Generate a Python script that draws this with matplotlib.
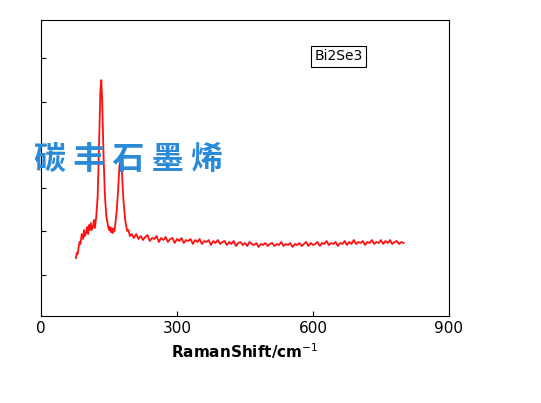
import matplotlib
matplotlib.use("Agg")
import matplotlib.pyplot as plt

# peak region (Raman shift, intensity in arbitrary units)
peak_x = [77, 79, 81, 83, 85, 87, 90, 93, 95, 97, 100, 102, 104, 106, 108, 110, 112, 115, 117, 119,
          122, 125, 128, 131, 133, 135, 138, 141, 144, 148, 150, 152, 154, 156, 158, 160, 162, 164,
          167, 170, 173, 176, 179, 182, 186, 190, 193, 196, 200]
peak_y = [58, 63, 62, 69, 74, 72, 82, 77, 86, 80, 84, 89, 82, 91, 86, 93, 86, 90, 96, 88,
          100, 120, 170, 225, 236, 215, 160, 120, 100, 90, 86, 89, 84, 88, 83, 87, 85, 92,
          105, 125, 150, 158, 140, 115, 95, 85, 86, 80, 82]

# baseline, every 5 cm-1 from 205 to 800
base_x = list(range(205, 801, 5))
base_y = [78, 82, 77, 80, 76, 79, 81, 75, 78, 77, 80, 74, 78, 76, 79, 74, 77, 78, 73, 77,
          75, 78, 73, 76, 75, 77, 72, 76, 74, 77, 72, 75, 74, 76, 71, 75, 73, 76, 72, 74,
          75, 71, 74, 72, 75, 70, 73, 74, 71, 73, 70, 74, 72, 71, 73, 69, 72, 71, 73, 70,
          72, 73, 70, 72, 71, 74, 70, 72, 71, 73, 69, 72, 71, 73, 70, 72, 74, 70, 73, 71,
          72, 74, 70, 73, 72, 75, 71, 73, 72, 74, 70, 73, 72, 75, 71, 74, 72, 76, 72, 74,
          73, 75, 71, 74, 73, 76, 72, 74, 73, 76, 72, 75, 73, 76, 72, 74, 75, 72, 74, 73]

x = peak_x + base_x
y = peak_y + base_y[:len(base_x)]

fig = plt.figure(figsize=(5.41, 4.03), dpi=100)
ax = fig.add_axes([0.0758, 0.216, 0.754, 0.734])
ax.plot(x, y, color="#ff1010", lw=1.3)
ax.set_xlim(0, 900)
ax.set_ylim(0, 296)
ax.set_xticks([0, 300, 600, 900])
ax.set_yticks([41, 85, 128, 171, 214, 258])
ax.set_yticklabels([])
ax.tick_params(direction="in", labelsize=11)
ax.set_xlabel("RamanShift/cm$^{-1}$", fontsize=11, fontweight="bold")
ax.text(0.67, 0.865, "Bi2Se3", transform=ax.transAxes, fontsize=10,
        bbox=dict(boxstyle="square,pad=0.25", fc="white", ec="black", lw=0.8))

fig.text(0.062, 0.58, "碳 丰 石 墨 烯", fontsize=23, fontweight="bold", color="#2a8ad8",
         family=["Noto Sans CJK SC", "DejaVu Sans"])

fig.savefig("out.png")
